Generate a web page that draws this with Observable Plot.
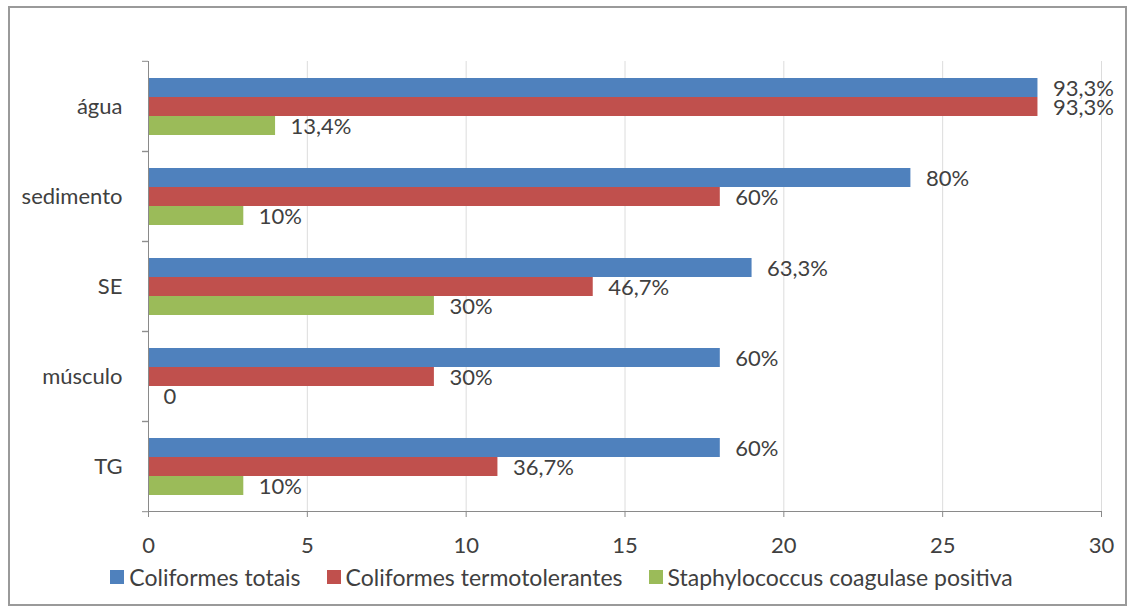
<!DOCTYPE html>
<html>
<head>
<meta charset="utf-8">
<script src="https://cdn.jsdelivr.net/npm/d3@7"></script>
<script src="https://cdn.jsdelivr.net/npm/@observablehq/plot@0.6"></script>
<style>
  html, body { margin: 0; padding: 0; background: #fff; }
  #chart {
    position: absolute; left: 8px; top: 6px; width: 1119px; height: 600px;
    border: 2px solid #9a9a9a; box-sizing: border-box; background: #fff;
    font-family: Lato, "Open Sans", sans-serif;
  }
  #legend {
    display: flex; justify-content: center; align-items: center; gap: 26px;
    font-size: 23px; color: #404040; height: 26px; line-height: 26px;
    margin-left: -12px;
  }
  .item { display: flex; align-items: center; gap: 5px; }
  .sw { width: 14px; height: 14px; display: inline-block; }
  svg { display: block; }
</style>
</head>
<body>
<div id="chart"></div>
<script>
const categories = ["água", "sedimento", "SE", "músculo", "TG"];
const series = ["Coliformes totais", "Coliformes termotolerantes", "Staphylococcus coagulase positiva"];
const colors = ["#4F81BD", "#C0504D", "#9BBB59"];
const totais = [28, 24, 19, 18, 18];
const termotolerantes = [28, 18, 14, 9, 11];
const staphylococcus = [4, 3, 9, 0, 3];
const labelsTotais = ["93,3%", "80%", "63,3%", "60%", "60%"];
const labelsTermo = ["93,3%", "60%", "46,7%", "30%", "36,7%"];
const labelsStaph = ["13,4%", "10%", "30%", "0", "10%"];
const xTicks = [0, 5, 10, 15, 20, 25, 30];

const valueSets = [totais, termotolerantes, staphylococcus];
const labelSets = [labelsTotais, labelsTermo, labelsStaph];
const rows = [];
categories.forEach((cat, i) => {
  series.forEach((s, j) => {
    rows.push({cat, series: s, value: valueSets[j][i], label: labelSets[j][i]});
  });
});

const H = 556, MT = 52, MB = 52;
const band = (H - MT - MB) / categories.length;

const plot = Plot.plot({
  width: 1115,
  height: H,
  marginLeft: 138,
  marginRight: 24,
  marginTop: MT,
  marginBottom: MB,
  style: {fontFamily: "Lato, 'Open Sans', sans-serif", fontSize: "22px", color: "#404040", background: "#fff"},
  x: {domain: [0, 30]},
  fy: {domain: categories, padding: 0, axis: null},
  y: {domain: series, paddingInner: 0, paddingOuter: 0.8, axis: null},
  color: {domain: series, range: colors},
  marks: [
    Plot.gridX(xTicks.slice(1), {stroke: "#dcdcdc", strokeOpacity: 1}),
    Plot.barX(rows, {fy: "cat", y: "series", x: "value", fill: "series"}),
    Plot.text(rows, {fy: "cat", y: "series", x: "value", text: "label", textAnchor: "start", dx: 15, dy: 1, fill: "#404040", fontSize: 22}),
    Plot.ruleX([0], {stroke: "#8a8a8a"}),
    Plot.frame({anchor: "bottom", facetAnchor: "bottom", stroke: "#8a8a8a"}),
    Plot.axisX({ticks: xTicks, tickSize: 6, tickPadding: 20, stroke: "#8a8a8a", fill: "#404040", fontSize: 22, label: null}),
    Plot.axisFy({anchor: "left", tickSize: 0, tickPadding: 26, fill: "#404040", fontSize: 22, label: null}),
    Plot.axisFy({anchor: "left", tickSize: 6, tickFormat: () => "", dy: -band / 2, stroke: "#8a8a8a", label: null}),
    Plot.axisFy({anchor: "left", tickSize: 6, tickFormat: () => "", dy: band / 2, stroke: "#8a8a8a", label: null})
  ]
});

const chart = document.getElementById("chart");
chart.appendChild(plot);

const legend = document.createElement("div");
legend.id = "legend";
series.forEach((s, j) => {
  const item = document.createElement("span");
  item.className = "item";
  const sw = document.createElement("span");
  sw.className = "sw";
  sw.style.background = colors[j];
  const t = document.createElement("span");
  t.textContent = s;
  item.appendChild(sw);
  item.appendChild(t);
  legend.appendChild(item);
});
chart.appendChild(legend);
</script>
</body>
</html>
